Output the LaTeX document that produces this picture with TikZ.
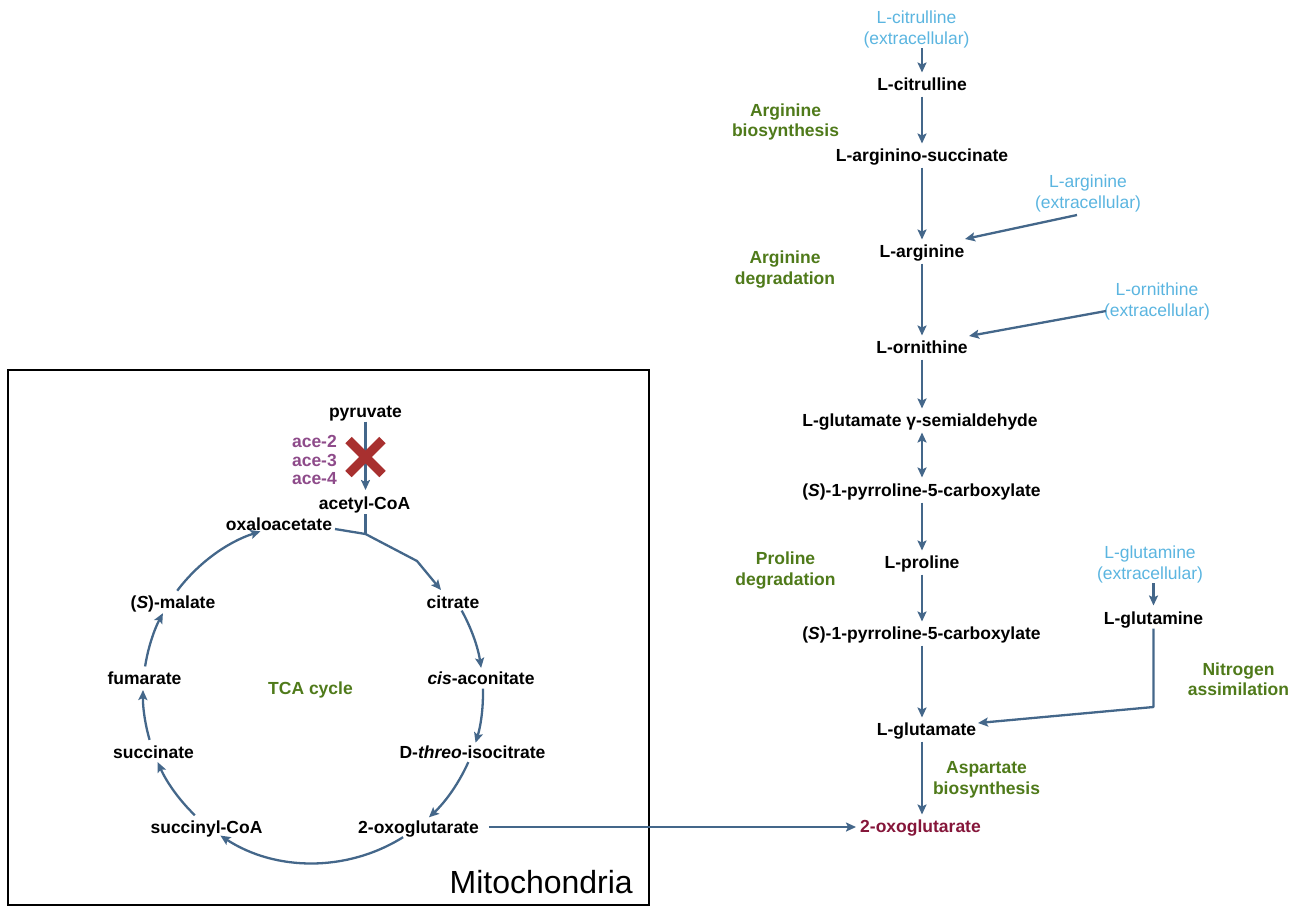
\documentclass[tikz,border=0pt]{standalone}
\usepackage{fontspec}
\setmainfont{Liberation Sans}
\usetikzlibrary{arrows.meta}
\definecolor{arrblue}{HTML}{44678A}
\definecolor{extblue}{HTML}{5BB5E0}
\definecolor{procgreen}{HTML}{4F7A1A}
\definecolor{acepurple}{HTML}{8E4B8A}
\definecolor{xred}{HTML}{A8302F}
\definecolor{oxored}{HTML}{85163A}
\newcommand\fs{\fontsize{17.5}{21}\selectfont}
\begin{document}
\begin{tikzpicture}[x=1pt,y=1pt,
  met/.style={font=\fs\bfseries, inner sep=0pt, text height=12.6pt, text depth=0pt},
  ext/.style={font=\fs, text=extblue, align=center, inner sep=0pt},
  proc/.style={font=\fontsize{17.5}{20.5}\selectfont\bfseries, text=procgreen, align=center, inner sep=0pt},
  arr/.style={draw=arrblue, line width=2.3pt, line join=round, -{Stealth[length=10pt,width=9pt,inset=2pt]}},
  darr/.style={draw=arrblue, line width=2.3pt, {Stealth[length=10pt,width=9pt,inset=2pt]}-{Stealth[length=10pt,width=9pt,inset=2pt]}},
  ln/.style={draw=arrblue, line width=2.3pt, line join=round},
  vs/.style={shorten <=6pt, shorten >=5pt}
]
\useasboundingbox (0,0) rectangle (1296,-906);

% ---------- right column ----------
\node[ext] (citex) at (916.5,-29.5) {L-citrulline\\(extracellular)};
\node[met] (cit) at (922,-84) {L-citrulline};
\node[met] (asuc) at (922,-155) {L-arginino-succinate};
\node[met] (arg) at (922,-251) {L-arginine};
\node[met] (orn) at (922,-347) {L-ornithine};
\node[met] (gsa) at (920,-420) {L-glutamate γ-semialdehyde};
\node[met] (p5ca) at (921.5,-490) {(\textit{S})-1-pyrroline-5-carboxylate};
\node[met] (pro) at (922,-562) {L-proline};
\node[met] (p5cb) at (921.5,-633) {(\textit{S})-1-pyrroline-5-carboxylate};
\node[met] (glu) at (926.5,-729) {L-glutamate};
\node[met, text=oxored] (oxo) at (920.5,-826) {2-oxoglutarate};
\node[ext] (argex) at (1088,-193.5) {L-arginine\\(extracellular)};
\node[ext] (ornex) at (1157,-301.5) {L-ornithine\\(extracellular)};
\node[ext] (glnex) at (1150,-564.5) {L-glutamine\\(extracellular)};
\node[met] (gln) at (1153.5,-618) {L-glutamine};

\node[proc] (pa) at (785.5,-122) {Arginine\\biosynthesis};
\node[proc] (pb) at (785,-269.5) {Arginine\\degradation};
\node[proc] (pc) at (785.5,-570.5) {Proline\\degradation};
\node[proc] (pd) at (1238.5,-679) {Nitrogen\\assimilation};
\node[proc] (pe) at (986.5,-780) {Aspartate\\biosynthesis};

\draw[arr, shorten >=5pt] (citex.south -| cit) -- (cit.north);
\draw[arr, vs] (cit.south) -- (cit.south |- asuc.north);
\draw[arr, vs] (asuc.south) -- (asuc.south |- arg.north);
\draw[arr, vs] (arg.south) -- (arg.south |- orn.north);
\draw[arr, vs] (orn.south) -- (orn.south |- gsa.north);
\draw[darr, shorten <=6pt, shorten >=6pt] (orn.south |- gsa.south) -- (orn.south |- p5ca.north);
\draw[arr, vs] (pro |- p5ca.south) -- (pro.north);
\draw[arr, vs] (pro.south) -- (pro.south |- p5cb.north);
\draw[arr, vs] (pro |- p5cb.south) -- (pro |- glu.north);
\draw[arr, vs] (pro |- glu.south) -- (pro |- oxo.north);

\draw[arr] ([shift={(-11pt,-21.5pt)}]argex.center) -- ([shift={(43pt,12pt)}]arg.center);
\draw[arr] ([shift={(-51pt,-9.5pt)}]ornex.center) -- ([shift={(47pt,11pt)}]orn.center);
\draw[arr, shorten >=6pt] (glnex.south -| gln) -- (gln.north);
\draw[arr] ([yshift=-4pt]gln.south) -- ([yshift=-89pt]gln.center) -- ([shift={(51.5pt,6pt)}]glu.center);

% ---------- mitochondria ----------
\draw[line width=2pt] (8,-370) rectangle (649,-905);
\node[font=\fontsize{32}{36}\selectfont, anchor=base east, inner sep=0pt] (mito) at (633,-893) {Mitochondria};

\node[met] (pyr) at (365.5,-411) {pyruvate};
\node[met] (acoa) at (364.5,-503) {acetyl-CoA};
\node[font=\fontsize{17.5}{18.5}\selectfont\bfseries, text=acepurple, align=right, inner sep=0pt, anchor=east] (ace) at (337,-460) {ace-2\\ace-3\\ace-4};
\node[met] (oaa) at (279,-524) {oxaloacetate};
\node[met] (cit2) at (453,-602) {citrate};
\node[met] (cisa) at (481,-678) {\textit{cis}-aconitate};
\node[met] (icit) at (472.5,-752) {D-\textit{threo}-isocitrate};
\node[met] (oxom) at (418.5,-827) {2-oxoglutarate};
\node[met] (scoa) at (206.5,-827) {succinyl-CoA};
\node[met] (succ) at (153.5,-752) {succinate};
\node[met] (fum) at (144.5,-678) {fumarate};
\node[met] (mal) at (173,-602) {(\textit{S})-malate};
\node[proc] (tca) at (310.5,-690) {TCA cycle};

\coordinate (C) at (313,-693);
\coordinate (J) at (365.5,-534);
\coordinate (K) at (417,-561);
\coordinate (X) at (365.5,-457);

\draw[arr, shorten <=4pt, shorten >=6.5pt] (pyr.south -| J) -- (J |- acoa.north);
\draw[xred, line width=9pt] ([shift={(-17pt,17pt)}]X) -- ([shift={(17pt,-17pt)}]X)
  ([shift={(-17pt,-17pt)}]X) -- ([shift={(17pt,17pt)}]X);
\draw[ln, shorten <=4.5pt] (J |- acoa.south) -- (J);
\draw[arr] ([shift={(56pt,-5pt)}]oaa.center) -- (J) -- (K) -- ([shift={(-12pt,12pt)}]cit2.center);

\draw[arr] ([shift={(143:170)}]C) arc[start angle=143,end angle=108,radius=170];
\draw[arr] ([shift={(171:170)}]C) arc[start angle=171,end angle=152,radius=170];
\draw[arr] ([shift={(196:170)}]C) arc[start angle=196,end angle=179,radius=170];
\draw[arr] ([shift={(226:170)}]C) arc[start angle=226,end angle=204,radius=170];
\draw[arr] ([shift={(302:170)}]C) arc[start angle=302,end angle=237,radius=170];
\draw[arr] ([shift={(336:170)}]C) arc[start angle=336,end angle=313,radius=170];
\draw[arr] ([shift={(1.5:170)}]C) arc[start angle=1.5,end angle=-17,radius=170];
\draw[arr] ([shift={(29:170)}]C) arc[start angle=29,end angle=8.5,radius=170];

\draw[arr, shorten <=10pt, shorten >=4pt] (oxom.east) -- (oxom.east -| oxo.west);
\end{tikzpicture}
\end{document}
